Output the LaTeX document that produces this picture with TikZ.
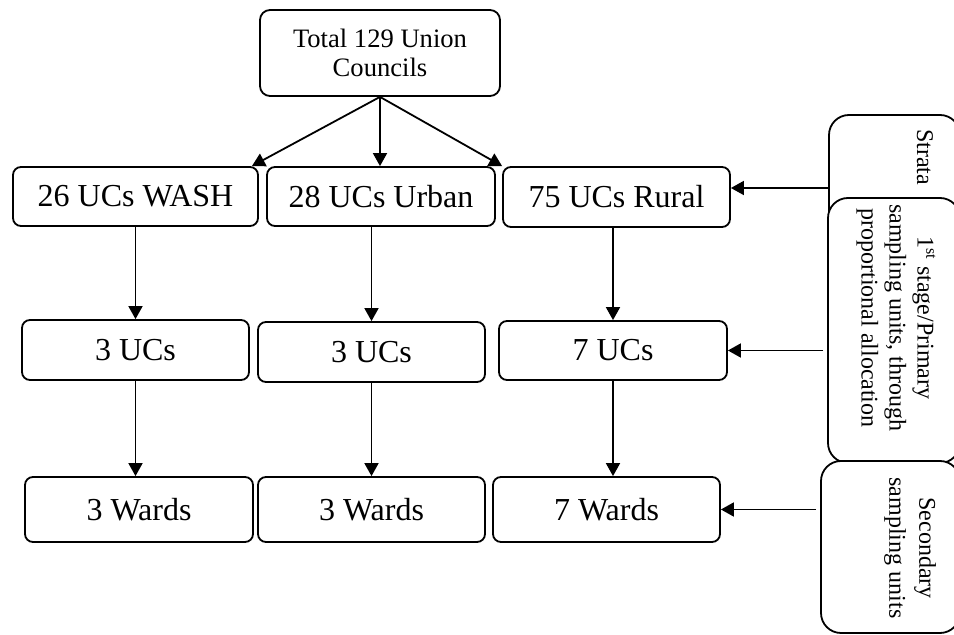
\documentclass[tikz,border=0pt]{standalone}
\usepackage{fontspec}
\setmainfont{Liberation Serif}
\usetikzlibrary{arrows.meta}

\begin{document}
\begin{tikzpicture}[x=0.5pt,y=-0.5pt,
  box/.style={draw,line width=0.9pt,rounded corners=4pt,fill=white,inner sep=0pt,
    minimum height=30pt,font=\fontsize{16}{19}\selectfont},
  side/.style={draw,line width=0.9pt,rounded corners=10pt,fill=white,inner sep=0pt},
  sidetext/.style={rotate=-90,align=center,inner sep=0pt,font=\fontsize{12}{14}\selectfont},
  arr/.style={line width=0.9pt,-{Triangle[length=6.5pt,width=7pt]}}]
\useasboundingbox (0,0) rectangle (954,635);
\clip (0,0) rectangle (954,635);

 \node[box,rounded corners=5pt,align=center,minimum width=120pt,minimum height=43pt,
   font=\fontsize{13.3}{14.5}\selectfont] at (380,53) (total) {Total 129 Union\\Councils};

 \node[box,minimum width=122.5pt,minimum height=29.5pt] at (135.5,196.5) (wash) {26 UCs WASH};
 \node[box,minimum width=114pt,minimum height=29.5pt] at (381,196.5) (urban) {28 UCs Urban};
 \node[box,minimum width=113.5pt,minimum height=30pt] at (616.5,197) (rural) {75 UCs Rural};

 \node[box,minimum width=113.5pt] at (135.5,350) (ucsw) {3 UCs};
 \node[box,minimum width=113.5pt] at (371.5,352) (ucsu) {3 UCs};
 \node[box,minimum width=114pt,minimum height=29.5pt] at (613,350.5) (ucsr) {7 UCs};

 \node[box,minimum width=114pt,minimum height=32.5pt] at (139,509.5) (wardsw) {3 Wards};
 \node[box,minimum width=113.5pt,minimum height=32.5pt] at (371.5,509.5) (wardsu) {3 Wards};
 \node[box,minimum width=113.5pt,minimum height=32.5pt] at (606.5,509.5) (wardsr) {7 Wards};

 \node[side,minimum width=65.5pt,minimum height=73pt] at (894.5,188) (strata) {};
 \node[side,minimum width=66pt,minimum height=132.5pt] at (894,330.5) (stage) {};
 \node[side,minimum width=69.5pt,minimum height=86pt] at (890.5,547) (second) {};

 \node[sidetext] at (925,157) (stratatext) {Strata};
 \node[sidetext] at (896,318) (stagetext) {1\textsuperscript{st} stage/Primary\\sampling units, through\\proportional allocation};
 \node[sidetext,font=\fontsize{12}{15}\selectfont] at (910,548) (secondtext) {Secondary\\sampling units};

 \draw[arr] (total.south) -- ([xshift=-3.5pt]wash.north east);
 \draw[arr] (total.south) -- (total.south |- urban.north);
 \draw[arr] (total.south) -- (rural.north west);

 \draw[arr] (wash.south) -- (wash.south |- ucsw.north);
 \draw[arr] (urban.south -| ucsu.north) -- (ucsu.north);
 \draw[arr] (rural.south -| ucsr.north) -- (ucsr.north);

 \draw[arr] (ucsw.south) -- (ucsw.south |- wardsw.north);
 \draw[arr] (ucsu.south) -- (ucsu.south |- wardsu.north);
 \draw[arr] (ucsr.south) -- (ucsr.south |- wardsr.north);

 \draw[arr] (strata.west) -- (strata.west -| rural.east);
 \draw[arr] ([xshift=-2pt]stage.west |- ucsr.east) -- (ucsr.east);
 \draw[arr] ([xshift=-2pt]second.west |- wardsr.east) -- (wardsr.east);
\end{tikzpicture}
\end{document}
